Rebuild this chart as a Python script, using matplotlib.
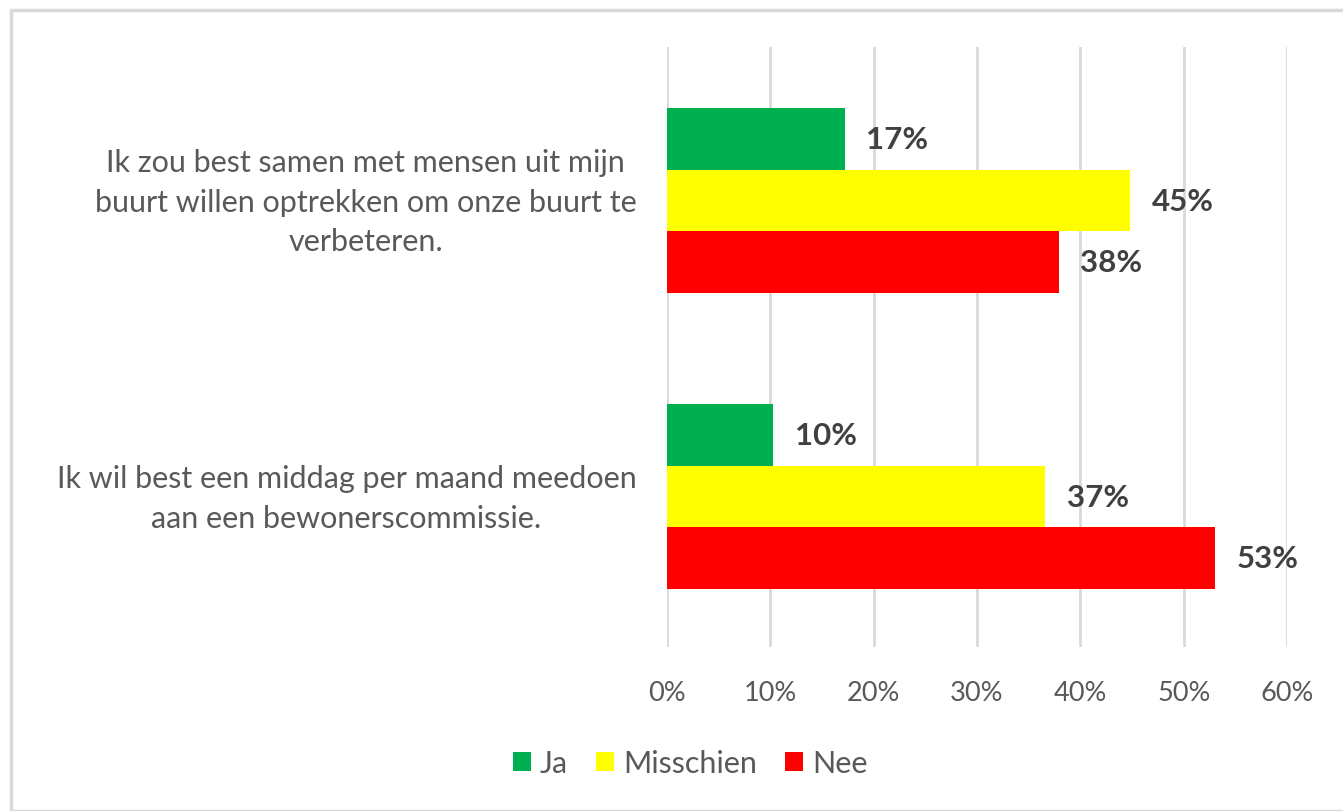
import matplotlib.pyplot as plt
from matplotlib.patches import Rectangle
from matplotlib.transforms import ScaledTranslation
import numpy as np

plt.rcParams['font.family'] = ['Lato', 'DejaVu Sans']

categories = ["Ik zou best samen met mensen uit mijn\nbuurt willen optrekken om onze buurt te\nverbeteren.",
              "Ik wil best een middag per maand meedoen\naan een bewonerscommissie."]
series_names = ["Ja", "Misschien", "Nee"]
ja = [17.2, 10.3]
misschien = [44.8, 36.6]
nee = [37.9, 53.0]
colors = ["#00B050", "#FFFF00", "#FF0000"]

fig = plt.figure(figsize=(13.43, 8.12), dpi=100)
ax = fig.add_axes([667/1343, 1-648/812, 620/1343, 600/812])

# outer chart border
fig.patches.append(Rectangle((11/1343, 0), 1.2, 1-11/812, transform=fig.transFigure,
                             fill=False, edgecolor="#D9D9D9", linewidth=2.5, zorder=0))

y = np.arange(len(categories))
h = 0.208
for i, (vals, name, c) in enumerate(zip([ja, misschien, nee], series_names, colors)):
    pos = y + (i - 1) * h
    ax.barh(pos, vals, height=h, color=c, label=name, zorder=3)
    for p, v in zip(pos, vals):
        ax.text(v + 2.1, p, f"{v:.0f}%", va="center", ha="left", fontsize=22.5,
                fontweight="bold", color="#404040", zorder=4)

ax.set_xlim(0, 60)
ax.set_ylim(1.5084, -0.5186)
ax.set_xticks(range(0, 61, 10))
ax.set_xticklabels([f"{t}%" for t in range(0, 61, 10)])
ax.set_yticks(y)
ax.set_yticklabels(categories, ha="right", multialignment="center", linespacing=1.5)
ax.tick_params(axis="y", length=0, pad=22, labelsize=22, labelcolor="#595959")
ax.tick_params(axis="x", length=0, pad=24, labelsize=19.5, labelcolor="#595959")
# nudge category labels up a little
for lab in ax.get_yticklabels():
    lab.set_transform(lab.get_transform() + ScaledTranslation(0, 0.07, fig.dpi_scale_trans))
ax.grid(axis="x", color="#D9D9D9", linewidth=2, zorder=0)
for s in ax.spines.values():
    s.set_visible(False)

ax.legend(loc="center", bbox_to_anchor=(690/1343, 1-764/812), bbox_transform=fig.transFigure,
          ncol=3, frameon=False, fontsize=22, handlelength=0.6, handleheight=0.6,
          handletextpad=0.3, columnspacing=0.9, labelcolor="#595959")

fig.savefig("out.png", dpi=100)
